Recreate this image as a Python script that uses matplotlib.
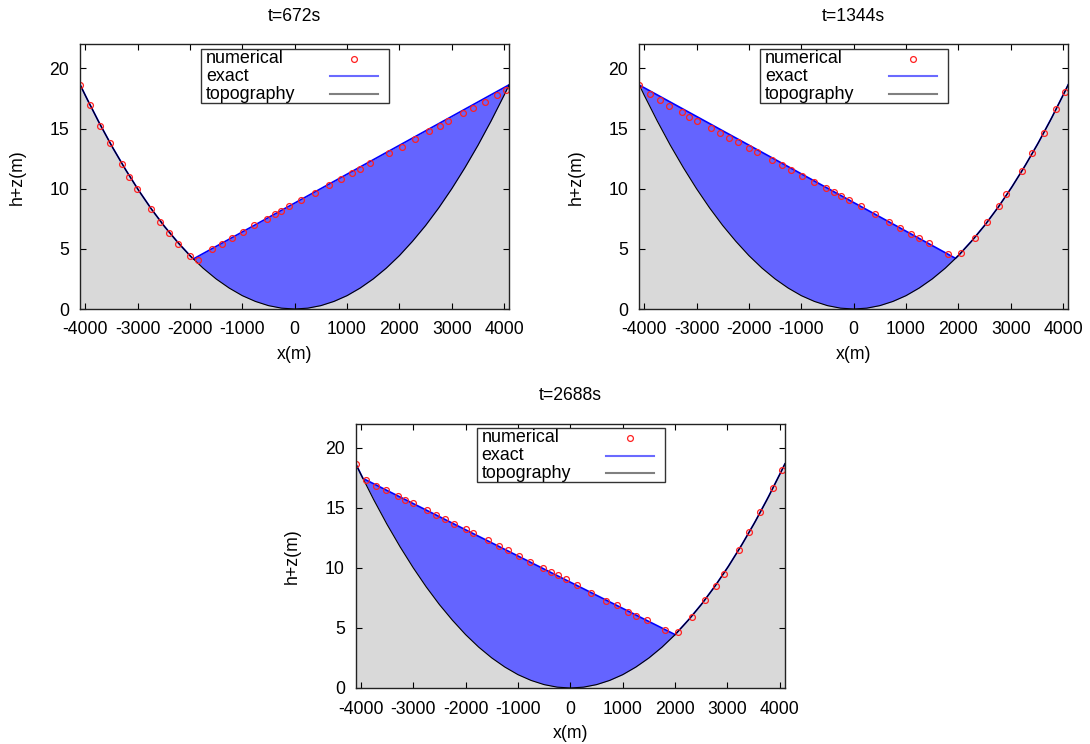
import numpy as np
import matplotlib
matplotlib.use("Agg")
import matplotlib.pyplot as plt
from matplotlib.patches import Rectangle
from matplotlib.lines import Line2D

plt.rcParams['font.family'] = ['Liberation Sans', 'DejaVu Sans']
plt.rcParams['font.size'] = 12.5
plt.rcParams['axes.unicode_minus'] = False

# ---------------- data ----------------
titles = ["t=672s", "t=1344s", "t=2688s"]
xticks = [-4000, -3000, -2000, -1000, 0, 1000, 2000, 3000, 4000]
yticks = [0, 5, 10, 15, 20]

# topography (bowl)
topo_x = [-4100, -4000, -3750, -3500, -3250, -3000, -2750, -2500, -2250, -2000,
          -1750, -1500, -1250, -1000, -750, -500, -250, 0,
          250, 500, 750, 1000, 1250, 1500, 1750, 2000, 2250, 2500,
          2750, 3000, 3250, 3500, 3750, 4000, 4100]
topo_z = [18.68, 17.78, 15.63, 13.61, 11.74, 10.00, 8.40, 6.94, 5.63, 4.44,
          3.40, 2.50, 1.74, 1.11, 0.63, 0.28, 0.07, 0.00,
          0.07, 0.28, 0.63, 1.11, 1.74, 2.50, 3.40, 4.44, 5.63, 6.94,
          8.40, 10.00, 11.74, 13.61, 15.63, 17.78, 18.68]

# exact planar free surface (values at the domain edges)
exact_x = [-4100, 4100]
exact_eta_672 = [-1.04, 18.64]
exact_eta_1344 = [18.63, -0.93]
exact_eta_2688 = [17.74, -0.14]

# numerical solution
num_x_672 = [-4092, -3909, -3709, -3531, -3296, -3155, -3003, -2748, -2570, -2398,
             -2226, -2002, -1843, -1582, -1384, -1199, -989, -772, -524, -376,
             -256, -103, 121, 394, 656, 880, 1089, 1249, 1434, 1797,
             2046, 2306, 2563, 2772, 2931, 3212, 3410, 3625, 3868, 4028]
num_y_672 = [18.61, 16.95, 15.21, 13.77, 12.01, 10.98, 9.98, 8.30, 7.24, 6.33,
             5.42, 4.40, 4.06, 4.98, 5.42, 5.86, 6.39, 6.94, 7.49, 7.88,
             8.15, 8.54, 9.02, 9.65, 10.31, 10.79, 11.28, 11.64, 12.11, 12.94,
             13.50, 14.16, 14.77, 15.24, 15.60, 16.26, 16.70, 17.23, 17.76, 18.17]

num_x_1344 = [-4090, -3894, -3697, -3519, -3283, -3144, -2996, -2729, -2558, -2386,
              -2214, -1998, -1845, -1565, -1368, -1191, -980, -763, -522, -382,
              -241, -95, 134, 401, 674, 884, 1094, 1246, 1437, 1800,
              2043, 2310, 2551, 2768, 2913, 3207, 3405, 3628, 3862, 4034]
num_y_1344 = [18.61, 17.84, 17.34, 16.87, 16.35, 15.99, 15.66, 15.02, 14.63, 14.25,
              13.86, 13.38, 13.03, 12.42, 11.97, 11.56, 11.06, 10.59, 10.04, 9.71,
              9.40, 9.07, 8.54, 7.88, 7.22, 6.72, 6.25, 5.89, 5.47, 4.59,
              4.64, 5.89, 7.27, 8.52, 9.52, 11.47, 12.94, 14.63, 16.62, 18.03]

num_x_2688 = [-4092, -3907, -3704, -3518, -3289, -3149, -3003, -2734, -2563, -2390,
              -2218, -1995, -1849, -1568, -1371, -1186, -975, -765, -522, -376,
              -235, -82, 134, 394, 682, 893, 1109, 1262, 1454, 1804,
              2046, 2314, 2563, 2772, 2926, 3218, 3417, 3628, 3863, 4035]
num_y_2688 = [18.65, 17.26, 16.79, 16.43, 15.96, 15.65, 15.38, 14.80, 14.41, 14.05,
              13.66, 13.24, 12.88, 12.28, 11.83, 11.44, 10.97, 10.50, 9.98, 9.67,
              9.37, 9.04, 8.56, 7.90, 7.26, 6.87, 6.34, 6.01, 5.63, 4.82,
              4.65, 5.90, 7.29, 8.50, 9.50, 11.50, 12.97, 14.66, 16.65, 18.10]

legend_labels = ["numerical", "exact", "topography"]

# ---------------- styles ----------------
GRAY = '#d9d9d9'
WATER = '#6464ff'
EXACT = '#0000ff'
RED = '#ff2020'
XLIM = (-4092, 4092)
YLIM = (0, 22)

W, H = 1090, 744
fig = plt.figure(figsize=(W / 100, H / 100), dpi=100)

def px_axes(left, top, right, bottom):
    return fig.add_axes([left / W, 1 - bottom / H, (right - left) / W, (bottom - top) / H])

axes = [px_axes(80.3, 44.3, 509.0, 309.0),
        px_axes(639.3, 44.3, 1068.0, 309.0),
        px_axes(356.0, 423.5, 784.7, 688.0)]

panels = [(num_x_672, num_y_672, exact_eta_672),
          (num_x_1344, num_y_1344, exact_eta_1344),
          (num_x_2688, num_y_2688, exact_eta_2688)]

xs = np.linspace(exact_x[0], exact_x[1], 1641)
topo_i = np.interp(xs, topo_x, topo_z)

for ax, title, (nx, ny, eta) in zip(axes, titles, panels):
    eta_i = np.interp(xs, exact_x, eta)
    exact_i = np.maximum(eta_i, topo_i)
    ax.fill_between(xs, 0, topo_i, color=GRAY, lw=0, zorder=1)
    ax.fill_between(xs, topo_i, exact_i, where=eta_i >= topo_i, color=WATER,
                    lw=0, zorder=1.5, interpolate=True)
    ax.plot(xs, exact_i, color=EXACT, lw=1.2, zorder=2)
    ax.plot(topo_x, topo_z, color='black', lw=0.8, zorder=3)
    ax.plot(nx, ny, linestyle='none', marker='o', ms=4.2, mfc='none',
            mec=RED, mew=0.9, zorder=4)

    ax.set_xlim(*XLIM)
    ax.set_ylim(*YLIM)
    ax.set_xticks(xticks)
    ax.set_yticks(yticks)
    ax.tick_params(direction='in', length=4, width=0.8, top=True, right=True,
                   labelsize=12.7)
    ax.tick_params(axis='x', pad=9)
    ax.tick_params(axis='y', pad=8)
    for s in ax.spines.values():
        s.set_linewidth(1.0)
        s.set_color('#222222')
        s.set_zorder(6)
    ax.set_title(title, fontsize=12.7, pad=17)
    ax.set_xlabel("x(m)", fontsize=12.7)
    ax.set_ylabel("h+z(m)", fontsize=12.7)
    ax.xaxis.set_label_coords(0.5, -0.14)
    ax.yaxis.set_label_coords(-0.128, 0.5)

    # gnuplot-style key: text left, sample right
    tr = ax.transAxes
    ax.add_patch(Rectangle((0.2816, 0.777), 0.720 - 0.2816, 0.982 - 0.777,
                           transform=tr, facecolor='white', edgecolor='#333333',
                           lw=1.0, zorder=7))
    rows = [0.946, 0.879, 0.812]
    for lab, yy in zip(legend_labels, rows):
        ax.text(0.2932, yy, lab, transform=tr, ha='left', va='center',
                fontsize=12.9, zorder=8)
    ax.add_line(Line2D([0.638], [rows[0]], transform=tr, linestyle='none',
                       marker='o', ms=4.2, mfc='none', mec=RED, mew=0.9, zorder=8))
    ax.add_line(Line2D([0.582, 0.694], [rows[1], rows[1]], transform=tr,
                       color='#6a6aff', lw=1.5, zorder=8))
    ax.add_line(Line2D([0.582, 0.694], [rows[2], rows[2]], transform=tr,
                       color='#808080', lw=1.5, zorder=8))

fig.savefig("out.png", dpi=100)
